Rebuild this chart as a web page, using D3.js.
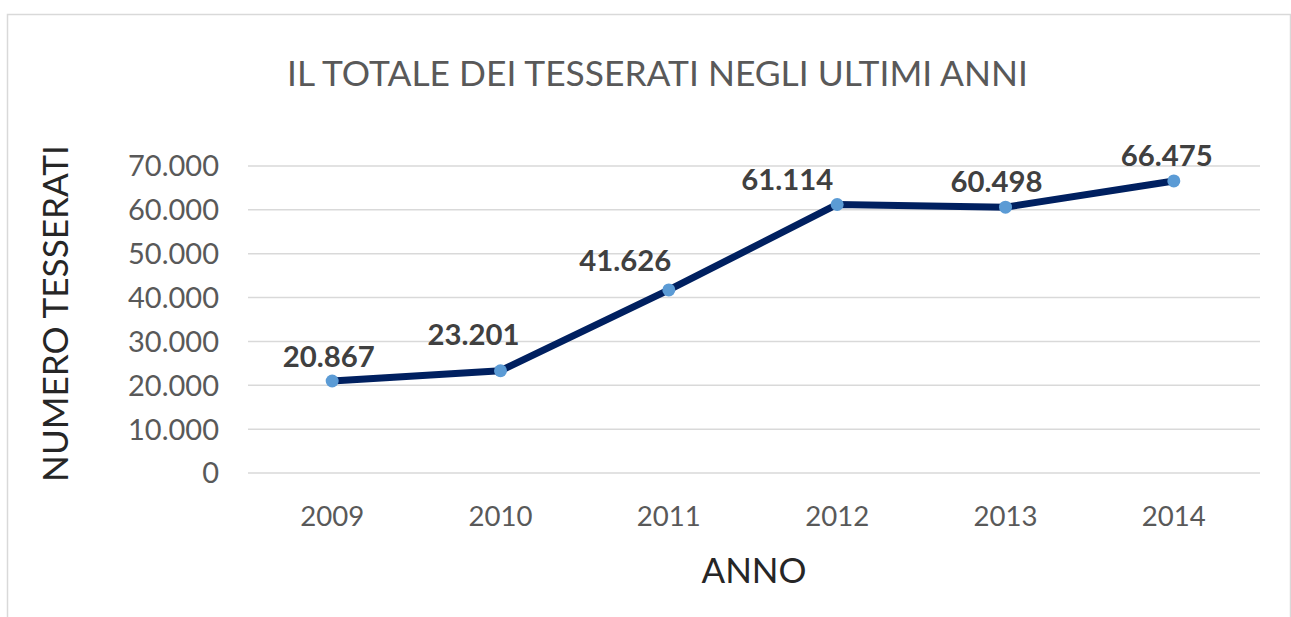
<!DOCTYPE html>
<html>
<head>
<meta charset="utf-8">
<script src="https://cdn.jsdelivr.net/npm/d3@7"></script>
<style>
  html, body { margin: 0; padding: 0; background: #fff; }
  svg { display: block; }
  text { font-family: Lato, "Open Sans", sans-serif; }
</style>
</head>
<body>
<svg id="chart" width="1291" height="617"></svg>
<script>
// ---- data ----
const years = ["2009", "2010", "2011", "2012", "2013", "2014"];
const members = [20867, 23201, 41626, 61114, 60498, 66475];
const yTicks = [0, 10000, 20000, 30000, 40000, 50000, 60000, 70000];
const titleText = "IL TOTALE DEI TESSERATI NEGLI ULTIMI ANNI";
const xTitle = "ANNO";
const yTitle = "NUMERO TESSERATI";

// ---- layout (label nudges relative to each point) ----
const labelDx = [-3.5, -27, -43.5, -50, -9, -7];
const labelDy = [-14, -26, -18.5, -14, -15, -14.5];

(function () {
const svg = d3.select("#chart");
const pL = 248, pR = 1258, pT = 165.5, pB = 472.5;

const it = d3.formatLocale({ decimal: ",", thousands: ".", grouping: [3], currency: ["€", ""] });
const fmt = it.format(",d");

const x = d3.scaleBand().domain(years).range([pL, pR]);
const y = d3.scaleLinear().domain([0, 70000]).range([pB, pT]);

function fitWidth(sel, target) {
  const node = sel.node();
  const fs = parseFloat(sel.attr("font-size"));
  const w = node.getComputedTextLength();
  sel.attr("font-size", fs * target / w);
}

// chart border
svg.append("rect")
  .attr("x", 7.5).attr("y", 14.5)
  .attr("width", 1283).attr("height", 640)
  .attr("fill", "#fff").attr("stroke", "#d9d9d9").attr("stroke-width", 1.5);

// title
const t = svg.append("text")
  .attr("x", 657.5).attr("y", 86)
  .attr("text-anchor", "middle")
  .attr("font-size", 34).attr("fill", "#595959")
  .text(titleText);
fitWidth(t, 741);

// y axis with gridlines
const yAxis = svg.append("g")
  .attr("transform", `translate(${pL},0)`)
  .call(d3.axisLeft(y).tickValues(yTicks).tickFormat(fmt).tickSize(-(pR - pL + 2)).tickPadding(0));
yAxis.select(".domain").remove();
yAxis.selectAll(".tick line").attr("stroke", "#d9d9d9").attr("stroke-width", 1.5);
yAxis.selectAll(".tick text")
  .attr("x", -29).attr("dy", "0.36em")
  .attr("font-size", 28).attr("fill", "#595959")
  .attr("font-family", "Lato, 'Open Sans', sans-serif");
{
  const sample = yAxis.selectAll(".tick text").filter(d => d === 70000);
  const w = sample.node().getComputedTextLength();
  yAxis.selectAll(".tick text").attr("font-size", 28 * 91 / w);
}

// x axis
const xAxis = svg.append("g")
  .attr("transform", `translate(0,${pB})`)
  .call(d3.axisBottom(x).tickSize(0).tickPadding(0));
xAxis.select(".domain").remove();
xAxis.selectAll(".tick text")
  .attr("y", 53.5).attr("dy", 0)
  .attr("font-size", 28).attr("fill", "#595959")
  .attr("font-family", "Lato, 'Open Sans', sans-serif");
{
  const sample = xAxis.selectAll(".tick text").filter(d => d === "2014");
  const w = sample.node().getComputedTextLength();
  xAxis.selectAll(".tick text").attr("font-size", 28 * 64 / w);
}

// axis titles
const xt = svg.append("text")
  .attr("x", (pL + pR) / 2 + 1).attr("y", 583)
  .attr("text-anchor", "middle")
  .attr("font-size", 34).attr("fill", "#262626")
  .text(xTitle);
fitWidth(xt, 105);

const yt = svg.append("text")
  .attr("transform", "translate(68,313.5) rotate(-90)")
  .attr("text-anchor", "middle")
  .attr("font-size", 34).attr("fill", "#262626")
  .text(yTitle);
fitWidth(yt, 337);

// line
const pts = years.map((yr, i) => ({ yr, v: members[i], i }));
const cx = d => x(d.yr) + x.bandwidth() / 2;
const line = d3.line().x(cx).y(d => y(d.v));
svg.append("path")
  .datum(pts)
  .attr("d", line)
  .attr("fill", "none")
  .attr("stroke", "#002060")
  .attr("stroke-width", 7)
  .attr("stroke-linejoin", "round")
  .attr("stroke-linecap", "round");

// markers
svg.selectAll("circle.pt")
  .data(pts).join("circle")
  .attr("class", "pt")
  .attr("cx", cx).attr("cy", d => y(d.v))
  .attr("r", 6.5)
  .attr("fill", "#5b9bd5");

// data labels
const labels = svg.selectAll("text.lbl")
  .data(pts).join("text")
  .attr("class", "lbl")
  .attr("x", d => cx(d) + labelDx[d.i])
  .attr("y", d => y(d.v) + labelDy[d.i])
  .attr("text-anchor", "middle")
  .attr("font-weight", "bold")
  .attr("font-size", 28)
  .attr("fill", "#404040")
  .text(d => fmt(d.v));
{
  const w = labels.filter(d => d.i === 5).node().getComputedTextLength();
  labels.attr("font-size", 28 * 92 / w);
}
})();
</script>
</body>
</html>
